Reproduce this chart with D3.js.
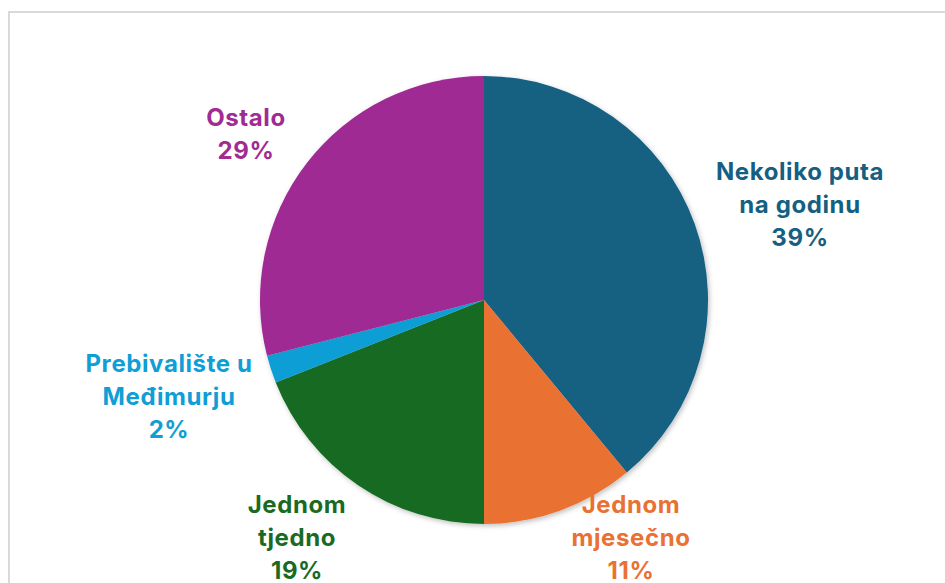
<!DOCTYPE html>
<html><head><meta charset="utf-8">
<script src="https://cdn.jsdelivr.net/npm/d3@7/dist/d3.min.js"></script>
<style>body{margin:0;background:#fff}svg{display:block}</style>
</head><body>
<script>
const categories = ["Nekoliko puta na godinu", "Jednom mjesečno", "Jednom tjedno", "Prebivalište u Međimurju", "Ostalo"];
const values = [39, 11, 19, 2, 29];
const labelLines = [["Nekoliko puta","na godinu"],["Jednom","mjesečno"],["Jednom","tjedno"],["Prebivalište u","Međimurju"],["Ostalo"]];
const colors = ["#156082", "#E97132", "#196B24", "#0F9ED5", "#A02B93"];
// label anchor positions (layout)
const labelPos = [[800,172],[631,505],[297,505],[169,364],[246,118]];

const W = 945, H = 583, cx = 484, cy = 300, R = 224;
const svg = d3.select("body").append("svg").attr("width", W).attr("height", H);
const defs = svg.append("defs");
const f = defs.append("filter").attr("id","sh").attr("x","-20%").attr("y","-20%").attr("width","140%").attr("height","140%");
f.append("feDropShadow").attr("dx",1.5).attr("dy",2).attr("stdDeviation",2.5).attr("flood-color","#000").attr("flood-opacity",0.25);

svg.append("rect").attr("x",9).attr("y",12).attr("width",W).attr("height",H).attr("fill","#fff").attr("stroke","#d9d9d9").attr("stroke-width",2);

const pie = d3.pie().sort(null).value(d => d.v);
const data = categories.map((c,i)=>({c, v: values[i], i}));
const arcs = pie(data);
const arc = d3.arc().innerRadius(0).outerRadius(R);
const g = svg.append("g").attr("transform",`translate(${cx},${cy})`).attr("filter","url(#sh)");
g.selectAll("path").data(arcs).join("path").attr("d", arc).attr("fill", d => colors[d.data.i]);

const fmt = d3.format(".0%");
const total = d3.sum(values);
const lg = svg.append("g").attr("font-family","Inter, 'Open Sans', sans-serif").attr("font-weight","700").attr("font-size","24px").attr("letter-spacing","0.6px").attr("text-anchor","middle");
arcs.forEach(a => {
  const i = a.data.i;
  const lines = labelLines[i].concat([fmt(a.data.v/total)]);
  const t = lg.append("text").attr("fill", colors[i]);
  lines.forEach((l,k) => {
    t.append("tspan").attr("x", labelPos[i][0]).attr("y", labelPos[i][1] + k*33).attr("dy","0.35em").text(l);
  });
});
</script>
</body></html>
